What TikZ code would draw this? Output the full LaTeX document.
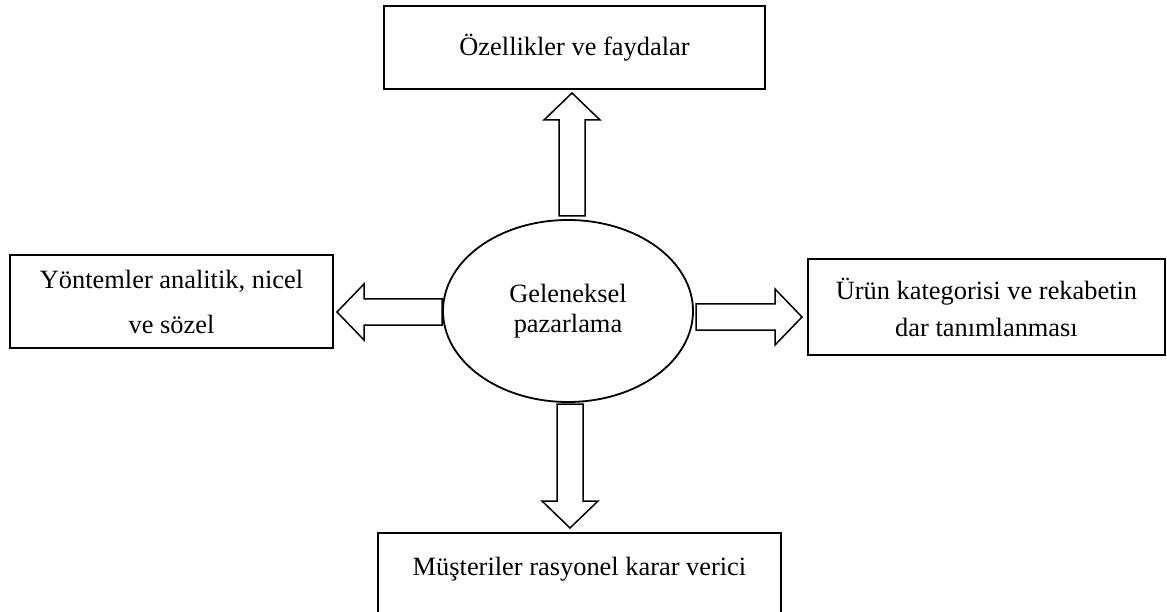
\documentclass[tikz,border=0pt]{standalone}
\usepackage{fontspec}
\setmainfont{Liberation Serif}
\usetikzlibrary{positioning, calc, shapes.geometric}
\tikzset{
  x=1pt, y=1pt,
  node distance=120pt,
  box/.style={draw, line width=1.8pt, outer sep=0pt, inner sep=0pt, align=center,
    font=\fontsize{26.4}{30}\selectfont},
  centre/.style={ellipse, draw, line width=1.8pt, outer sep=0pt, inner sep=0pt,
    minimum width=250pt, minimum height=182pt, align=center,
    font=\fontsize{26.4}{30}\selectfont},
  fat/.style={draw, line width=1.5pt, fill=white},
}
% block arrow from #1 to #2
\newcommand{\fatarrow}[2]{%
  \draw[fat] let \p1=(#1), \p2=(#2),
      \n1={atan2(\y2-\y1,\x2-\x1)},
      \n2={veclen(\x2-\x1,\y2-\y1)-27} in
    ($(\p1)+({\n1+90}:13pt)$) -- ++(\n1:\n2) -- ++({\n1+90}:15pt) -- (\p2)
    -- ($(\p1)+(\n1:\n2)+({\n1-90}:28pt)$) -- ++({\n1+90}:15pt)
    -- ++({\n1+180}:\n2) -- cycle;}

\begin{document}
\begin{tikzpicture}
        \useasboundingbox (0,0) rectangle (1167,-612);

        % nodes
        \node[centre] (ell) at (568,-311) {Geleneksel\\pazarlama};
        \node[box, minimum width=381pt, minimum height=83pt, above=131pt of ell, xshift=6.5pt] (top)
          {Özellikler ve faydalar};
        \node[box, minimum width=323pt, minimum height=93pt, left=110pt of ell, yshift=9.5pt,
          font=\fontsize{26.4}{45}\selectfont] (left) {Yöntemler analitik, nicel\\ve sözel};
        \node[box, minimum width=357pt, minimum height=96pt, right=115pt of ell, yshift=4pt,
          font=\fontsize{26.4}{37}\selectfont] (right) {Ürün kategorisi ve rekabetin\\dar tanımlanması};
        \node[box, minimum width=403pt, inner ysep=24pt, below=131pt of ell, xshift=11.5pt] (bottom)
          {Müşteriler rasyonel karar verici\rule[-70pt]{0pt}{0pt}};

        % arrow ends
        \coordinate (upfrom) at ($(ell.north)+(4,4)$);
        \coordinate (upto) at ($(top.south -| upfrom)+(0,-4)$);
        \coordinate (lfrom) at ($(ell.west)+(-1,-1)$);
        \coordinate (lto) at ($(left.east |- lfrom)+(4,0)$);
        \coordinate (rfrom) at ($(ell.east)+(3,-6)$);
        \coordinate (rto) at ($(right.west |- rfrom)+(-6,0)$);
        \coordinate (dfrom) at ($(ell.south)+(2,-2)$);
        \coordinate (dto) at ($(bottom.north -| dfrom)+(0,5)$);

        % arrows
        \fatarrow{upfrom}{upto}
        \fatarrow{lfrom}{lto}
        \fatarrow{rfrom}{rto}
        \fatarrow{dfrom}{dto}
      \end{tikzpicture}
\end{document}
